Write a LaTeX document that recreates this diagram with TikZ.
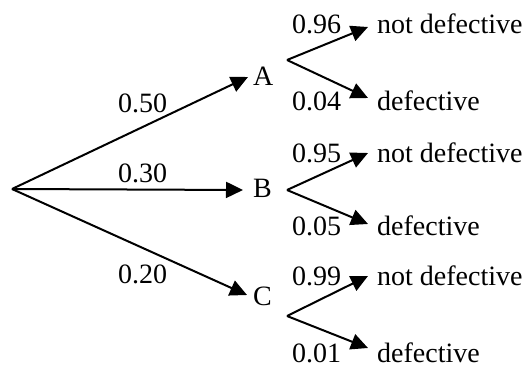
\documentclass[tikz,border=0pt]{standalone}
\usepackage{fontspec}
\setmainfont{Liberation Serif}
\usetikzlibrary{arrows.meta}
\begin{document}
\begin{tikzpicture}[x=1pt,y=-1pt,
  branch/.style={line width=2pt,-{Triangle[length=17pt,width=16pt]}},
  lbl/.style={anchor=base west,inner sep=0pt,font=\fontsize{28}{32}\selectfont}]
\useasboundingbox (0,0) rectangle (531,367);
% root and first-level tips
\coordinate (r) at (12,189);
\coordinate (tA) at (248,77);
\coordinate (tB) at (243,190);
\coordinate (tC) at (247,295);
\node[lbl] (A) at (253,85) {A};
\node[lbl] (B) at (253,197) {B};
\node[lbl] (C) at (253,305) {C};
\node[lbl] (pA) at (118,112) {0.50};
\node[lbl] (pB) at (118,182) {0.30};
\node[lbl] (pC) at (118,283) {0.20};
\draw[branch] (r) -- (tA);
\draw[branch] (r) -- (tB);
\draw[branch] (r) -- (tC);
% second level vertices
\coordinate (vA) at (287,60);
\coordinate (vB) at (287,190);
\coordinate (vC) at (287,316);
\coordinate (uA) at (368,27);  \coordinate (dA) at (368,98);
\coordinate (uB) at (368,153); \coordinate (dB) at (368,224);
\coordinate (uC) at (368,276); \coordinate (dC) at (368,348);
\draw[branch] (vA) -- (uA);
\draw[branch] (vA) -- (dA);
\draw[branch] (vB) -- (uB);
\draw[branch] (vB) -- (dB);
\draw[branch] (vC) -- (uC);
\draw[branch] (vC) -- (dC);
% labels
\node[lbl] (qA1) at (292,33) {0.96};
\node[lbl] (qA2) at (292,110) {0.04};
\node[lbl] (qB1) at (292,162) {0.95};
\node[lbl] (qB2) at (292,235) {0.05};
\node[lbl] (qC1) at (292,285) {0.99};
\node[lbl] (qC2) at (292,362) {0.01};
\node[lbl] (nA1) at (377,33) {not defective};
\node[lbl] (nA2) at (377,110) {defective};
\node[lbl] (nB1) at (377,162) {not defective};
\node[lbl] (nB2) at (377,235) {defective};
\node[lbl] (nC1) at (377,285) {not defective};
\node[lbl] (nC2) at (377,362) {defective};
\end{tikzpicture}
\end{document}
